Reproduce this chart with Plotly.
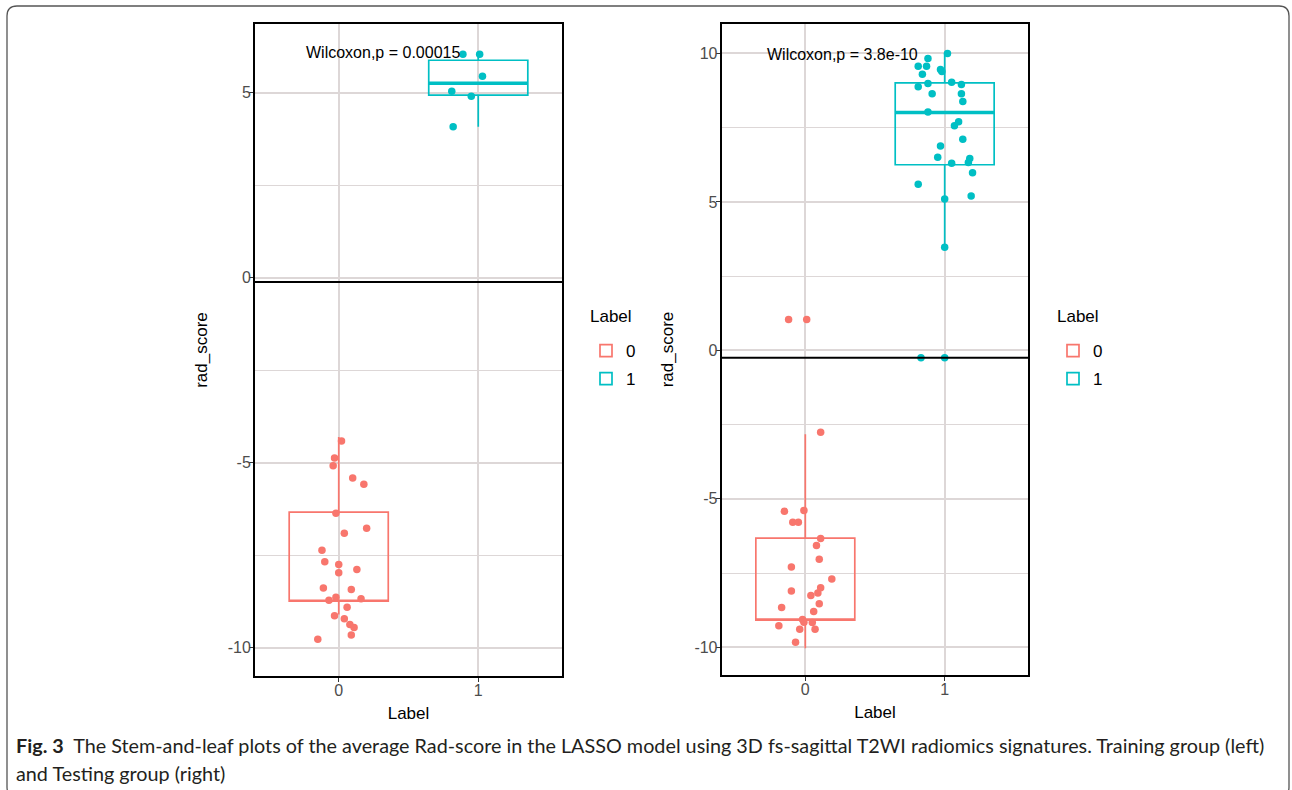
import plotly.graph_objects as go

# ---------------- data ----------------
categories = [0, 1]
tick_vals_left = [-10, -5, 0, 5]
tick_vals_right = [-10, -5, 0, 5, 10]
x_tick_labels = ["0", "1"]

# Training group (left panel)
train_pink_y = [-4.41, -4.87, -5.08, -5.41, -5.58, -6.36, -6.77, -6.90, -7.36, -7.67,
                -7.75, -7.97, -7.88, -8.38, -8.42, -8.63, -8.71, -8.67, -8.90, -9.13,
                -9.21, -9.37, -9.45, -9.65, -9.77]
train_pink_jit = [0.02, -0.03, -0.04, 0.10, 0.18, -0.02, 0.20, 0.04, -0.12, -0.10,
                  0.00, 0.00, 0.13, -0.11, 0.09, -0.02, -0.07, 0.16, 0.06, -0.03,
                  0.04, 0.08, 0.11, 0.09, -0.15]
train_teal_y = [4.08, 5.04, 4.91, 5.45, 6.04, 6.04]
train_teal_jit = [-0.18, -0.19, -0.05, 0.03, -0.11, 0.01]

# box statistics (q1, mid line, q3, lower whisker end, upper whisker end)
train_box = {
    0: dict(q1=-8.74, med=-8.74, q3=-6.33, lo=-9.10, hi=-4.30),
    1: dict(q1=4.94, med=5.26, q3=5.88, lo=4.08, hi=6.04),
}
train_cutoff = -0.11
train_label = "Wilcoxon,p = 0.00015"

# Testing group (right panel)
test_pink_y = [-2.76, -5.42, -5.39, -5.79, -5.79, -6.33, -6.57, -7.03, -7.29, -7.70,
               -8.10, -7.99, -8.17, -8.25, -8.53, -8.66, -8.79, -9.06, -9.15, -9.16,
               -9.27, -9.39, -9.39, -9.83, 1.04, 1.04]
test_pink_jit = [0.11, -0.15, -0.01, -0.09, -0.05, 0.11, 0.08, 0.10, -0.10, 0.19,
                 -0.10, 0.11, 0.09, 0.04, 0.10, -0.17, 0.06, -0.02, -0.01, 0.05,
                 -0.19, -0.04, 0.07, -0.07, -0.12, 0.01]
test_teal_y = [10.0, 9.83, 9.57, 9.57, 9.30, 9.46, 9.39, 8.88, 8.99, 9.03,
               8.95, 8.64, 8.64, 8.38, 8.03, 7.70, 7.56, 7.11, 6.88, 6.50,
               6.46, 6.33, 6.30, 5.98, 5.59, 5.20, 5.10, 3.47, -0.25, -0.25]
test_teal_jit = [0.02, -0.12, -0.19, -0.13, -0.16, -0.03, -0.02, -0.19, -0.12, 0.05,
                 0.12, -0.09, 0.12, 0.13, -0.12, 0.10, 0.07, 0.13, -0.03, -0.05,
                 0.18, 0.17, 0.05, 0.20, -0.19, 0.19, 0.00, 0.00, -0.17, 0.00]
test_box = {
    0: dict(q1=-9.08, med=-9.08, q3=-6.32, lo=-10.03, hi=-2.82),
    1: dict(q1=6.25, med=8.01, q3=9.01, lo=3.47, hi=10.0),
}
test_cutoff = -0.25
test_label = "Wilcoxon,p = 3.8e-10"

legend_title = "Label"
caption_bold = "Fig. 3"
caption_line1 = ("The Stem-and-leaf plots of the average Rad-score in the LASSO model using "
                 "3D fs-sagittal T2WI radiomics signatures. Training group (left)")
caption_line2 = "and Testing group (right)"

# ---------------- style ----------------
W, H = 1292, 790
PINK = "#F8766D"
TEAL = "#00BFC4"
COLORS = {0: PINK, 1: TEAL}
GRID = "#DDD7D7"
FONT = "Liberation Sans, Arial, sans-serif"
BOX_W = 0.71


def px(x):
    return x / W


def py(y):
    return 1 - y / H


fig = go.Figure()

panels = [
    dict(xa="x", ya="y", legend="legend", box=train_box,
         pts={0: (train_pink_y, train_pink_jit), 1: (train_teal_y, train_teal_jit)},
         cutoff=train_cutoff, label=train_label, lab_xy=(0.32, 6.09), leg_x=586),
    dict(xa="x2", ya="y2", legend="legend2", box=test_box,
         pts={0: (test_pink_y, test_pink_jit), 1: (test_teal_y, test_teal_jit)},
         cutoff=test_cutoff, label=test_label, lab_xy=(0.27, 9.98), leg_x=1053),
]

for p in panels:
    for c in categories:
        b = p["box"][c]
        fig.add_trace(go.Box(
            x=[c], q1=[b["q1"]], median=[b["med"]], q3=[b["q3"]],
            lowerfence=[b["lo"]], upperfence=[b["hi"]],
            width=BOX_W, whiskerwidth=0, boxpoints=False,
            line=dict(color=COLORS[c], width=1.7),
            fillcolor="rgba(0,0,0,0)",
            name=str(c), legend=p["legend"], legendgroup=p["legend"] + str(c),
            xaxis=p["xa"], yaxis=p["ya"], hoverinfo="skip",
        ))
    # thicker median line for the teal box
    b = p["box"][1]
    fig.add_trace(go.Scatter(
        x=[1 - BOX_W / 2, 1 + BOX_W / 2], y=[b["med"], b["med"]], mode="lines",
        line=dict(color=TEAL, width=3.6), showlegend=False,
        xaxis=p["xa"], yaxis=p["ya"], hoverinfo="skip"))
    for c in categories:
        ys, jit = p["pts"][c]
        fig.add_trace(go.Scatter(
            x=[c + j for j in jit], y=ys, mode="markers",
            marker=dict(color=COLORS[c], size=7.5, line=dict(width=0)),
            showlegend=False, xaxis=p["xa"], yaxis=p["ya"], hoverinfo="skip"))
    fig.add_shape(type="line", xref=p["xa"] + " domain", yref=p["ya"],
                  x0=0, x1=1, y0=p["cutoff"], y1=p["cutoff"],
                  line=dict(color="black", width=2))
    fig.add_annotation(x=p["lab_xy"][0], y=p["lab_xy"][1], xref=p["xa"], yref=p["ya"],
                       text=p["label"], showarrow=False,
                       font=dict(family=FONT, size=16, color="black"))
    # legend title
    fig.add_annotation(x=px(p["leg_x"] + 2), y=py(316), xref="paper", yref="paper",
                       xanchor="left", yanchor="middle", text=legend_title, showarrow=False,
                       font=dict(family=FONT, size=17, color="black"))

axis_common = dict(
    showline=True, mirror=True, linecolor="black", linewidth=2,
    showgrid=True, gridcolor=GRID, gridwidth=1.5, zeroline=False,
    ticks="outside", ticklen=4, tickwidth=1.3, tickcolor="#333333",
    tickfont=dict(family=FONT, size=16, color="#4D4D4D"),
    title_font=dict(family=FONT, size=17, color="black"),
)
minor_grid = dict(dtick=2.5, tick0=0, showgrid=True, gridcolor=GRID, gridwidth=1.3, ticks="")
legend_common = dict(xanchor="left", yanchor="top",
                     font=dict(family=FONT, size=17, color="black"),
                     bgcolor="rgba(0,0,0,0)", tracegroupgap=3)

fig.update_layout(
    width=W, height=H, margin=dict(l=0, r=0, t=0, b=0),
    paper_bgcolor="white", plot_bgcolor="white",
    xaxis=dict(domain=[px(255), px(562)], anchor="y", range=[-0.6, 1.6],
               tickvals=categories, ticktext=x_tick_labels, ticklabelstandoff=-5,
               title=dict(text="Label", standoff=9), **axis_common),
    yaxis=dict(domain=[py(676), py(24)], anchor="x", range=[-10.76, 6.86],
               tickvals=tick_vals_left, ticktext=[str(v) for v in tick_vals_left],
               ticklabelstandoff=-5, minor=minor_grid,
               title=dict(text="rad_score", standoff=16), **axis_common),
    xaxis2=dict(domain=[px(721.7), px(1028.3)], anchor="y2", range=[-0.6, 1.6],
                tickvals=categories, ticktext=x_tick_labels, ticklabelstandoff=-5,
                title=dict(text="Label", standoff=9), **axis_common),
    yaxis2=dict(domain=[py(675), py(24)], anchor="x2", range=[-10.93, 10.99],
                tickvals=tick_vals_right, ticktext=[str(v) for v in tick_vals_right],
                ticklabelstandoff=-5, minor=minor_grid,
                title=dict(text="rad_score", standoff=16), **axis_common),
    legend=dict(x=px(586), y=py(333), **legend_common),
    legend2=dict(x=px(1053), y=py(333), **legend_common),
    showlegend=True,
)

# caption
CAP_FONT = dict(family="Lato, Open Sans, sans-serif", size=19.8, color="#231F20")
fig.add_annotation(x=px(14), y=py(745), xref="paper", yref="paper", xanchor="left",
                   yanchor="middle", showarrow=False,
                   text="<b>" + caption_bold + "</b>  " + caption_line1, font=CAP_FONT)
fig.add_annotation(x=px(14), y=py(773), xref="paper", yref="paper", xanchor="left",
                   yanchor="middle", showarrow=False, text=caption_line2, font=CAP_FONT)

# rounded outer frame
x0, x1, y0, y1, r = 7, 1289, 6, 797, 10
path = (f"M {px(x0)},{py(y0 + r)} Q {px(x0)},{py(y0)} {px(x0 + r)},{py(y0)} "
        f"L {px(x1 - r)},{py(y0)} Q {px(x1)},{py(y0)} {px(x1)},{py(y0 + r)} "
        f"L {px(x1)},{py(y1 - r)} Q {px(x1)},{py(y1)} {px(x1 - r)},{py(y1)} "
        f"L {px(x0 + r)},{py(y1)} Q {px(x0)},{py(y1)} {px(x0)},{py(y1 - r)} Z")
fig.add_shape(type="path", path=path, xref="paper", yref="paper",
              line=dict(color="#555555", width=1.3))

# the page itself should add no margin around the figure
fig.write_html("out.html", config={"displayModeBar": False},
               post_script="document.body.style.margin='0';document.body.style.overflow='hidden';")
